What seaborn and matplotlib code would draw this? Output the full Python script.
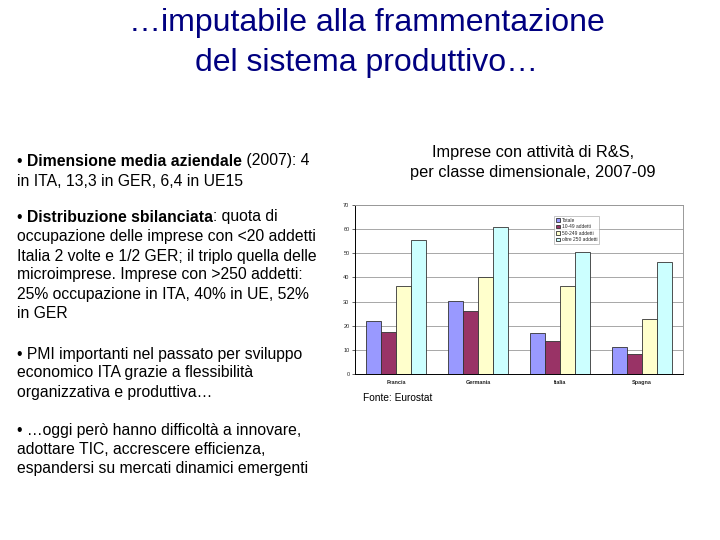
import matplotlib
matplotlib.use("Agg")
import matplotlib.pyplot as plt
import seaborn as sns
import pandas as pd

countries = ["Francia", "Germania", "Italia", "Spagna"]
classes = ["Totale", "10-49 addetti", "50-249 addetti", "oltre 250 addetti"]
totale = [22.0, 30.4, 16.9, 11.0]
piccole = [17.2, 25.9, 13.8, 8.3]
medie = [36.6, 40.3, 36.6, 22.6]
grandi = [55.6, 60.7, 50.6, 46.5]
colors = ["#9999FF", "#993366", "#FFFFCC", "#CCFFFF"]
yticks = [0, 10, 20, 30, 40, 50, 60, 70]

rows = []
for cls, vals in zip(classes, [totale, piccole, medie, grandi]):
    for c, v in zip(countries, vals):
        rows.append({"Paese": c, "Classe": cls, "Valore": v})
df = pd.DataFrame(rows)

sns.set_theme(style="white")
plt.rcParams["font.family"] = ["Liberation Sans", "DejaVu Sans"]

fig = plt.figure(figsize=(7.2, 5.4), dpi=100)
fig.patch.set_facecolor("white")

# Slide title
fig.text(367 / 720, 1 - 23 / 540, "…imputabile alla frammentazione", ha="center", va="center",
         fontsize=23, color="#000080")
fig.text(367 / 720, 1 - 63 / 540, "del sistema produttivo…", ha="center", va="center",
         fontsize=23, color="#000080")

# Left bullet text with mixed bold
renderer = fig.canvas.get_renderer()
fs = 11.3
def line(y_px, parts):
    x = 17 / 720
    for txt, bold in parts:
        t = fig.text(x, 1 - y_px / 540, txt, ha="left", va="center", fontsize=fs,
                     fontweight="bold" if bold else "normal", color="black")
        bb = t.get_window_extent(renderer=renderer)
        x = bb.x1 / fig.bbox.width

line(161, [("• ", False), ("Dimensione media aziendale", True), (" (2007): 4", False)])
line(181, [("in ITA, 13,3 in GER, 6,4 in UE15", False)])
line(217, [("• ", False), ("Distribuzione sbilanciata", True), (": quota di", False)])
line(237, [("occupazione delle imprese con <20 addetti", False)])
line(256, [("Italia 2 volte e 1/2 GER; il triplo quella delle", False)])
line(275, [("microimprese. Imprese con >250 addetti:", False)])
line(295, [("25% occupazione in ITA, 40% in UE, 52%", False)])
line(314, [("in GER", False)])
line(354, [("• PMI importanti nel passato per sviluppo", False)])
line(373, [("economico ITA grazie a flessibilità", False)])
line(392, [("organizzativa e produttiva…", False)])
line(430, [("• …oggi però hanno difficoltà a innovare,", False)])
line(449, [("adottare TIC, accrescere efficienza,", False)])
line(468, [("espandersi su mercati dinamici emergenti", False)])

# Chart title
fig.text(533 / 720, 1 - 153 / 540, "Imprese con attività di R&S,", ha="center", va="center",
         fontsize=11.8, color="black")
fig.text(533 / 720, 1 - 173 / 540, "per classe dimensionale, 2007-09", ha="center", va="center",
         fontsize=11.8, color="black")

ax = fig.add_axes([355 / 720, 1 - 374 / 540, (683 - 355) / 720, (374 - 205) / 540])
sns.barplot(data=df, x="Paese", y="Valore", hue="Classe", palette=colors,
            width=0.73, edgecolor="#333333", linewidth=0.6, saturation=1, ax=ax)
ax.set_ylim(0, 70)
ax.set_yticks(yticks)
ax.set_yticklabels([str(v) for v in yticks], fontsize=4)
ax.tick_params(axis="x", labelsize=4, length=0, pad=4)
ax.tick_params(axis="y", length=2, width=0.5, pad=2, left=True)
for lbl in ax.get_xticklabels():
    lbl.set_fontweight("bold")
ax.set_xlabel("")
ax.set_ylabel("")
ax.set_axisbelow(True)
ax.yaxis.grid(True, color="#999999", linewidth=0.6)
for s in ax.spines.values():
    s.set_color("#999999")
    s.set_linewidth(0.7)
ax.spines["left"].set_color("black")
ax.spines["bottom"].set_color("black")
leg = ax.legend(loc="upper left", bbox_to_anchor=(0.6, 0.95), fontsize=3.5,
                frameon=True, fancybox=False, edgecolor="#999999", handlelength=0.8,
                handleheight=0.8, borderpad=0.4, labelspacing=0.3, handletextpad=0.4)
leg.get_frame().set_linewidth(0.5)

fig.text(363 / 720, 1 - 398 / 540, "Fonte: Eurostat", ha="left", va="center",
         fontsize=7.3, color="black")

fig.savefig("out.png", dpi=100)
